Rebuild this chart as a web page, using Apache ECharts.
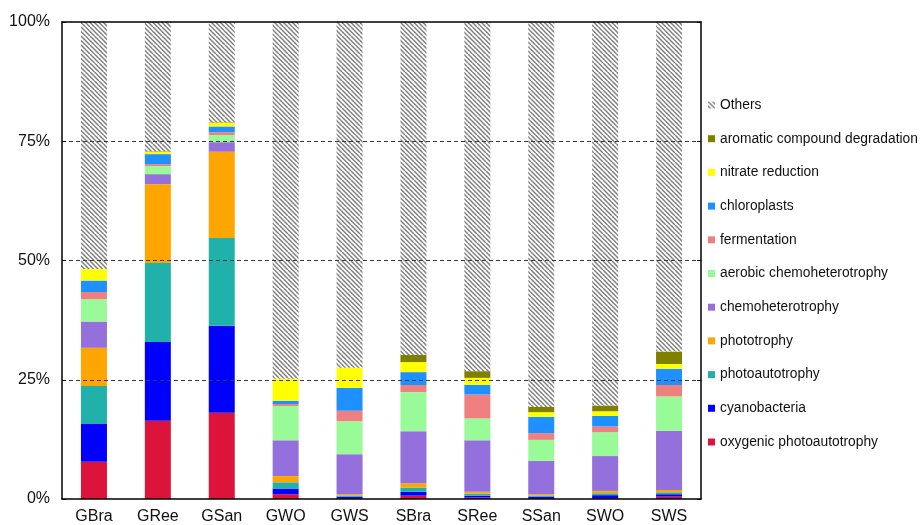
<!DOCTYPE html>
<html>
<head>
<meta charset="utf-8">
<script src="https://cdn.jsdelivr.net/npm/echarts@6/dist/echarts.min.js"></script>
<style>
  html, body { margin: 0; padding: 0; background: #fff; }
  #chart { width: 921px; height: 525px; }
</style>
</head>
<body>
<div id="chart"></div>
<script>
// Sample groups on the x axis
const categories = ['GBra', 'GRee', 'GSan', 'GWO', 'GWS', 'SBra', 'SRee', 'SSan', 'SWO', 'SWS'];

// Relative abundance (%) of each predicted function per sample
const oxygenicPhotoautotrophy = [7.8, 16.4, 18.1, 1.0, 0.2, 0.7, 0.3, 0.2, 0.2, 0.5];
const cyanobacteria           = [7.9, 16.5, 18.2, 1.2, 0.3, 0.8, 0.4, 0.3, 0.6, 0.5];
const photoautotrophy         = [8.0, 16.6, 18.4, 1.3, 0.2, 0.9, 0.4, 0.2, 0.4, 0.4];
const phototrophy             = [8.0, 16.5, 18.1, 1.3, 0.3, 0.9, 0.4, 0.3, 0.5, 0.5];
const chemoheterotrophy       = [5.5, 2.1, 2.0, 7.5, 8.4, 10.9, 10.8, 7.0, 7.3, 12.4];
const aerobicChemoheterotrophy= [4.7, 1.7, 1.5, 7.2, 6.9, 8.2, 4.6, 4.4, 5.0, 7.2];
const fermentation            = [1.5, 0.4, 0.6, 0.4, 2.2, 1.5, 5.0, 1.4, 1.2, 2.4];
const chloroplasts            = [2.4, 2.1, 1.2, 0.7, 4.8, 2.7, 2.0, 3.4, 2.2, 3.4];
const nitrateReduction        = [2.4, 0.5, 0.8, 4.6, 4.2, 2.1, 1.5, 1.0, 1.0, 1.0];
const aromaticDegradation     = [0, 0.1, 0.1, 0, 0, 1.5, 1.4, 1.1, 1.2, 2.6];
const others                  = [51.8, 27.1, 21.0, 74.8, 72.5, 69.8, 73.2, 80.7, 80.4, 69.1];

// Y axis ticks
const yTicks = [0, 25, 50, 75, 100];

// Diagonal hatch used for the "Others" portion
function hatchPattern() {
  const s = 9;
  const c = document.createElement('canvas');
  c.width = s; c.height = s;
  const ctx = c.getContext('2d');
  ctx.fillStyle = '#ffffff';
  ctx.fillRect(0, 0, s, s);
  ctx.strokeStyle = '#7f7f7f';
  ctx.lineWidth = 1.5;
  for (let x0 = -s; x0 <= s; x0 += s / 2) {
    ctx.beginPath();
    ctx.moveTo(x0, 0);
    ctx.lineTo(x0 + s, s);
    ctx.stroke();
  }
  return { image: c, repeat: 'repeat' };
}

const seriesDefs = [
  { name: 'oxygenic photoautotrophy', data: oxygenicPhotoautotrophy, color: '#DC143C' },
  { name: 'cyanobacteria', data: cyanobacteria, color: '#0000FF' },
  { name: 'photoautotrophy', data: photoautotrophy, color: '#20B2AA' },
  { name: 'phototrophy', data: phototrophy, color: '#FFA500' },
  { name: 'chemoheterotrophy', data: chemoheterotrophy, color: '#9370DB' },
  { name: 'aerobic chemoheterotrophy', data: aerobicChemoheterotrophy, color: '#98FB98' },
  { name: 'fermentation', data: fermentation, color: '#F08080' },
  { name: 'chloroplasts', data: chloroplasts, color: '#1E90FF' },
  { name: 'nitrate reduction', data: nitrateReduction, color: '#FFFF00' },
  { name: 'aromatic compound degradation', data: aromaticDegradation, color: '#808000' },
  { name: 'Others', data: others, color: hatchPattern() }
];

const font = 'Liberation Sans, Arial, sans-serif';

const chart = echarts.init(document.getElementById('chart'), null, { renderer: 'canvas' });

chart.setOption({
  animation: false,
  backgroundColor: '#ffffff',
  grid: { left: 62, right: 220, top: 22, bottom: 26, containLabel: false },
  legend: {
    orient: 'vertical',
    left: 703,
    top: 93,
    icon: 'rect',
    itemWidth: 7,
    itemHeight: 7,
    itemGap: 19.7,
    textStyle: { fontFamily: font, fontSize: 13.8, color: '#111', lineHeight: 14 },
    data: seriesDefs.map(d => d.name).reverse()
  },
  xAxis: [
    {
      type: 'category',
      data: categories,
      z: 5,
      axisLine: { lineStyle: { color: '#000', width: 1.5 } },
      axisTick: { inside: true, length: 4, lineStyle: { color: '#000' } },
      axisLabel: { fontFamily: font, fontSize: 16, color: '#111', margin: 10 }
    },
    {
      type: 'category',
      data: categories,
      position: 'top',
      z: 6,
      axisLine: { show: true, onZero: false, lineStyle: { color: '#000', width: 1.5 } },
      axisTick: { show: false },
      axisLabel: { show: false }
    }
  ],
  yAxis: [
    {
      type: 'value',
      min: 0,
      max: 100,
      interval: 25,
      z: 5,
      axisLine: { show: true, lineStyle: { color: '#000', width: 1.5 } },
      axisTick: { show: true, inside: true, length: 4, lineStyle: { color: '#000' } },
      axisLabel: {
        fontFamily: font, fontSize: 16, color: '#111', margin: 12,
        formatter: v => yTicks.includes(v) ? v + '%' : ''
      },
      splitLine: {
        show: true, showMinLine: false, showMaxLine: false,
        lineStyle: { color: '#3a3a3a', type: [4, 3], width: 1 }
      }
    },
    {
      type: 'value',
      min: 0,
      max: 100,
      interval: 25,
      position: 'right',
      z: 5,
      axisLine: { show: true, onZero: false, lineStyle: { color: '#000', width: 1.5 } },
      axisTick: { show: true, inside: true, length: 4, lineStyle: { color: '#000' } },
      axisLabel: { show: false },
      splitLine: { show: false }
    }
  ],
  series: seriesDefs.map(d => ({
    name: d.name,
    type: 'bar',
    stack: 'total',
    barWidth: 26,
    data: d.data,
    itemStyle: { color: d.color },
    emphasis: { disabled: true }
  }))
});
</script>
</body>
</html>
